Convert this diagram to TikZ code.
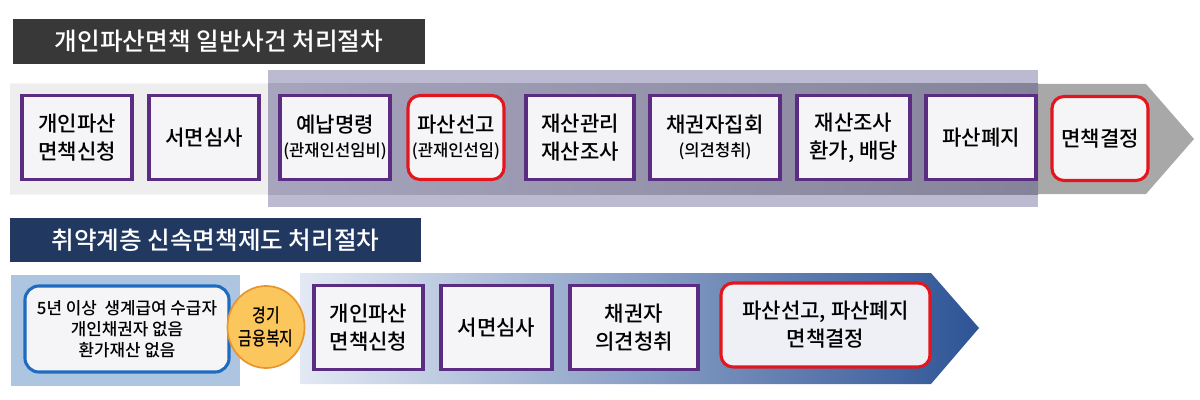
\documentclass[tikz,border=0pt]{standalone}
\usepackage{fontspec}
\setmainfont{Noto Sans CJK KR}[UprightFont=* Medium]
\newfontfamily\narrowfont{Noto Sans CJK KR}[UprightFont=* Medium, FakeStretch=0.78]
\usetikzlibrary{shapes.geometric}
\definecolor{titlegray}{HTML}{383838}
\definecolor{titlenavy}{HTML}{213861}
\definecolor{boxpurple}{HTML}{5A2D82}
\definecolor{boxred}{HTML}{E3161D}
\definecolor{boxfill}{HTML}{F5F5F7}
\definecolor{redfill}{HTML}{EEF0F6}
\definecolor{lightstrip}{HTML}{EEEEEE}
\definecolor{arrowgray}{HTML}{A8A8A8}
\definecolor{lavender}{HTML}{BCBAD1}
\definecolor{bandleft}{HTML}{A7A5BD}
\definecolor{bandright}{HTML}{85839A}
\definecolor{paleblue}{HTML}{ADC5E0}
\definecolor{blueedge}{HTML}{1E6CC0}
\definecolor{circlefill}{HTML}{FBC65C}
\definecolor{circleedge}{HTML}{E8962C}
\definecolor{arrowlight}{HTML}{E3E9F4}
\definecolor{arrowmid}{HTML}{A3B7DA}
\definecolor{arrowdark}{HTML}{2E5496}
\newcommand\subtxt[1]{{\fontsize{11.8}{14}\selectfont #1}}
\begin{document}
\begin{tikzpicture}[x=0.025cm,y=-0.025cm]
\tikzset{
    titlebar/.style={fill=#1, text=white, inner sep=0pt, font=\fontsize{17.5}{20}\selectfont},
    stepbox/.style={draw=boxpurple, line width=2.2pt, fill=boxfill, align=center, inner sep=2pt,
        minimum width=#1, minimum height=2.1cm, font=\fontsize{15}{20}\selectfont},
    redbox/.style 2 args={draw=boxred, line width=2.2pt, fill=#2, rounded corners=0.3cm, align=center,
        inner sep=2pt, minimum width=#1, minimum height=2.1cm, font=\fontsize{15}{20}\selectfont}
}
\useasboundingbox (0,0) rectangle (1200,400);
% general procedure
\node[titlebar=titlegray, minimum width=10.3cm, minimum height=1.125cm] (title1) at (219,41.5) {개인파산면책 일반사건 처리절차};
\fill[arrowgray] (10,84) -- (1146,84) -- (1194,139) -- (1146,194) -- (10,194) -- cycle;
\fill[lightstrip] (10,84) rectangle (268,194);
\fill[lavender] (268,70) rectangle (1038,207);
\shade[left color=bandleft, right color=bandright] (268,84) rectangle (1038,194);
\def\topsteps{apply/77/2.75/{개인파산\\면책신청}, review/204/2.75/{서면심사},
  deposit/335/2.75/{예납명령\\[-3pt]\subtxt{(관재인선임비)}}, manage/580/2.7/{재산관리\\재산조사},
  meeting/715/3.25/{채권자집회\\[-3pt]\subtxt{(의견청취)}}, liquidate/853.5/2.825/{재산조사\\환가, 배당},
  abolish/981/2.75/{파산폐지}}
\foreach \nm/\cx/\bw/\txt in \topsteps
{
  \node[stepbox=\bw cm] (\nm) at (\cx,137.5) {\txt};
}
\node[redbox={2.4cm}{boxfill}] (declare) at (456,137.5) {파산선고\\[-3pt]\subtxt{(관재인선임)}};
\node[redbox={2.4cm}{boxfill}] (discharge) at (1100,138.5) {면책결정};
% fast-track procedure
\node[titlebar=titlenavy, minimum width=10.275cm, minimum height=1.1cm] (title2) at (215.5,240) {취약계층 신속면책제도 처리절차};
\fill[paleblue] (11,275) rectangle (240,386);
\shade[left color=arrowlight, middle color=arrowmid, right color=arrowdark] (300,273) -- (931,273) -- (979,328) -- (931,384) -- (300,384) -- cycle;
\node[draw=blueedge, line width=2.2pt, fill=boxfill, rounded corners=0.35cm, align=center,
  minimum width=5.1cm, minimum height=2.15cm, font=\fontsize{12}{15}\selectfont] (eligible) at (127,329)
  {5년 이상~ 생계급여 수급자\\개인채권자 없음\\환가재산 없음};
\node[ellipse, fill=circlefill, draw=circleedge, line width=1.2pt, minimum width=1.85cm, minimum height=2.05cm,
  inner sep=0pt, align=center, font=\narrowfont\fontsize{13.5}{16}\selectfont] (welfare) at (266,327) {경기\\금융복지};
\def\faststeps{fapply/368.5/2.725/{개인파산\\면책신청}, freview/496.5/2.775/{서면심사},
  hearing/634/3.2/{채권자\\의견청취}}
\foreach \nm/\cx/\bw/\txt in \faststeps
{
  \node[stepbox=\bw cm] (\nm) at (\cx,327.5) {\txt};
}
\node[redbox={5.225cm}{redfill}] (fdecide) at (825.5,325) {파산선고, 파산폐지\\면책결정};
\end{tikzpicture}
\end{document}
